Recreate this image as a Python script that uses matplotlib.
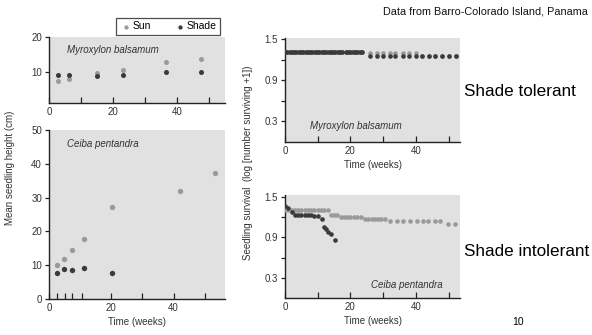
import matplotlib
matplotlib.use("Agg")
import matplotlib.pyplot as plt

plt.rcParams['font.family'] = ['Liberation Sans', 'DejaVu Sans']

# --- seedling height (cm) ---
myro_sun_wk = [2.9, 6.2, 15.0, 23.0, 36.5, 47.5]
myro_sun_h = [7.4, 7.9, 9.7, 10.4, 12.8, 13.7]
myro_shade_wk = [2.9, 6.2, 15.0, 23.0, 36.5, 47.5]
myro_shade_h = [9.0, 9.0, 8.9, 9.1, 9.9, 9.9]

ceiba_sun_wk = [2.7, 4.9, 7.5, 11.1, 20.1, 41.9, 53.2]
ceiba_sun_h = [10.1, 11.7, 14.4, 17.8, 27.1, 32.0, 37.4]
ceiba_shade_wk = [2.7, 4.9, 7.5, 11.1, 20.1]
ceiba_shade_h = [7.8, 8.9, 8.7, 9.3, 7.6]

# --- seedling survival (log [number surviving + 1]) ---
myro_surv_wk = [0, 0.7, 1.4, 2.1, 2.8, 3.5, 4.2, 4.9, 5.6, 6.3, 7, 7.7, 8.4, 9.1,
                9.8, 10.5, 11.2, 11.9, 12.6, 13.3, 14, 14.7, 15.4, 16.1, 16.8, 17.5,
                18.6, 19.3, 20, 20.7, 21.4, 22.1, 22.8, 23.5,
                26, 28, 30, 32, 33.7, 36, 38, 40,
                42, 44, 46, 48, 50, 52.3]
myro_surv_sun = [1.31] * 34 + [1.30, 1.30, 1.30, 1.30, 1.30, 1.30, 1.30, 1.30,
                               1.26, 1.26, 1.26, 1.26, 1.26, 1.26]
myro_surv_shade = [1.31] * 34 + [1.25, 1.25, 1.25, 1.25, 1.25, 1.25, 1.25, 1.25,
                                 1.26, 1.26, 1.26, 1.26, 1.26, 1.26]

ceiba_surv_sun_wk = [0, 1, 2, 3, 4, 5, 6, 7, 8, 9, 10, 11, 12, 13,
                     14, 15, 16,
                     17, 18, 19, 20, 21, 22, 23.3,
                     24.5, 25.5, 26.5, 27.5, 28.5, 29.5, 30.5,
                     32.1, 34.2, 36.2, 38.2, 40.3, 42.3, 43.8, 45.9, 47.4,
                     49.9, 52.0]
ceiba_surv_sun = [1.30] * 14 + [1.24] * 3 + [1.20] * 7 + [1.17] * 7 + \
                 [1.145] * 9 + [1.10, 1.10]
ceiba_surv_shade_wk = [0, 1, 2, 3, 4, 5, 6, 7, 8, 9, 10, 11.2, 11.8, 12.5, 13.2, 14.0, 15.3]
ceiba_surv_shade = [1.37, 1.33, 1.28, 1.24, 1.24, 1.24, 1.24, 1.24, 1.23, 1.22, 1.22,
                    1.18, 1.05, 1.02, 0.98, 0.95, 0.86]

SUN = '#9a9a9a'
SHADE = '#3a3a3a'
BG = '#e1e1e1'
W, H = 592, 335


def px_axes(fig, left, top, right, bottom):
    return fig.add_axes([left / W, 1 - bottom / H, (right - left) / W, (bottom - top) / H])


def style(ax):
    ax.set_facecolor(BG)
    for s in ['top', 'right']:
        ax.spines[s].set_visible(False)
    for s in ['left', 'bottom']:
        ax.spines[s].set_color('#222222')
        ax.spines[s].set_linewidth(1.0)
    ax.tick_params(axis='x', direction='in', length=4, width=0.9, color='#222222',
                   labelsize=7, labelcolor='#333333', pad=3)
    ax.tick_params(axis='y', direction='out', length=3, width=0.9, color='#222222',
                   labelsize=7, labelcolor='#333333', pad=2)


fig = plt.figure(figsize=(W / 100, H / 100), dpi=100)

# top-left: Myroxylon height
ax1 = px_axes(fig, 49, 37, 225, 103)
style(ax1)
ax1.scatter(myro_sun_wk, myro_sun_h, s=13, color=SUN, lw=0, zorder=3, label='Sun')
ax1.scatter(myro_shade_wk, myro_shade_h, s=13, color=SHADE, lw=0, zorder=3, label='Shade')
ax1.set_xlim(0, 55)
ax1.set_ylim(1, 20)
ax1.set_xticks([0, 10, 20, 30, 40, 50])
ax1.set_xticklabels(['0', '', '20', '', '40', ''])
ax1.set_yticks([10, 20])
ax1.text(0.1, 0.8, 'Myroxylon balsamum', transform=ax1.transAxes, style='italic',
         fontsize=7, color='#333333', va='center')

# bottom-left: Ceiba height
ax2 = px_axes(fig, 49, 130, 225, 299)
style(ax2)
ax2.scatter(ceiba_sun_wk, ceiba_sun_h, s=15, color=SUN, lw=0, zorder=3)
ax2.scatter(ceiba_shade_wk, ceiba_shade_h, s=15, color=SHADE, lw=0, zorder=3)
ax2.set_xlim(0, 56.5)
ax2.set_ylim(0, 50)
ax2.set_xticks([0, 2.5, 5, 7.5, 10.5, 20, 30, 40, 50])
ax2.set_xticklabels(['0', '', '', '', '', '20', '', '40', ''])
ax2.set_yticks([0, 10, 20, 30, 40, 50])
ax2.set_xlabel('Time (weeks)', fontsize=7, color='#333333', labelpad=3)
ax2.text(0.1, 0.92, 'Ceiba pentandra', transform=ax2.transAxes, style='italic',
         fontsize=7, color='#333333', va='center')

# top-right: Myroxylon survival
ax3 = px_axes(fig, 285, 38, 460, 142)
style(ax3)
ax3.scatter(myro_surv_wk, myro_surv_sun, s=11, color=SUN, lw=0, zorder=3)
ax3.scatter(myro_surv_wk, myro_surv_shade, s=11, color=SHADE, lw=0, zorder=4)
ax3.set_xlim(0, 53.5)
ax3.set_ylim(0, 1.52)
ax3.set_xticks([0, 10, 20, 30, 40, 50])
ax3.set_xticklabels(['0', '', '20', '', '40', ''])
ax3.set_yticks([0.3, 0.6, 0.9, 1.2, 1.5])
ax3.set_yticklabels(['0.3', '', '0.9', '', '1.5'])
ax3.set_xlabel('Time (weeks)', fontsize=7, color='#333333', labelpad=3)
ax3.text(0.14, 0.155, 'Myroxylon balsamum', transform=ax3.transAxes, style='italic',
         fontsize=7, color='#333333', va='center')

# bottom-right: Ceiba survival
ax4 = px_axes(fig, 285, 195, 460, 298)
style(ax4)
ax4.scatter(ceiba_surv_sun_wk, ceiba_surv_sun, s=11, color=SUN, lw=0, zorder=3)
ax4.scatter(ceiba_surv_shade_wk, ceiba_surv_shade, s=11, color=SHADE, lw=0, zorder=4)
ax4.set_xlim(0, 53.5)
ax4.set_ylim(0, 1.53)
ax4.set_xticks([0, 10, 20, 30, 40, 50])
ax4.set_xticklabels(['0', '', '20', '', '40', ''])
ax4.set_yticks([0.3, 0.6, 0.9, 1.2, 1.5])
ax4.set_yticklabels(['0.3', '', '0.9', '', '1.5'])
ax4.set_xlabel('Time (weeks)', fontsize=7, color='#333333', labelpad=3)
ax4.text(0.9, 0.125, 'Ceiba pentandra', transform=ax4.transAxes, style='italic',
         fontsize=7, color='#333333', va='center', ha='right')

# shared labels
fig.text(10 / W, 0.5, 'Mean seedling height (cm)', rotation=90, fontsize=7,
         color='#333333', ha='center', va='center')
fig.text(248 / W, 0.513, 'Seedling survival  (log [number surviving +1])', rotation=90,
         fontsize=7, color='#333333', ha='center', va='center')

leg = fig.legend(*ax1.get_legend_handles_labels(), loc='upper right',
                 bbox_to_anchor=(225 / W, 1 - 12.5 / H), ncol=2, fontsize=7.5,
                 frameon=True, fancybox=False, handletextpad=0.0, columnspacing=2.2,
                 borderpad=0.35, handlelength=1.2, markerscale=0.85)
leg.get_frame().set_edgecolor('#222222')
leg.get_frame().set_linewidth(0.9)

fig.text(588 / W, 1 - 12 / H, 'Data from Barro-Colorado Island, Panama', fontsize=7.8,
         ha='right', va='center', color='#111111')
fig.text(464 / W, 1 - 92 / H, 'Shade tolerant', fontsize=12.3, ha='left', va='center')
fig.text(464 / W, 1 - 251 / H, 'Shade intolerant', fontsize=12.3, ha='left', va='center')
fig.text(518 / W, 1 - 322 / H, '10', fontsize=7.5, ha='center', va='center')

fig.savefig('out.png', dpi=100)
